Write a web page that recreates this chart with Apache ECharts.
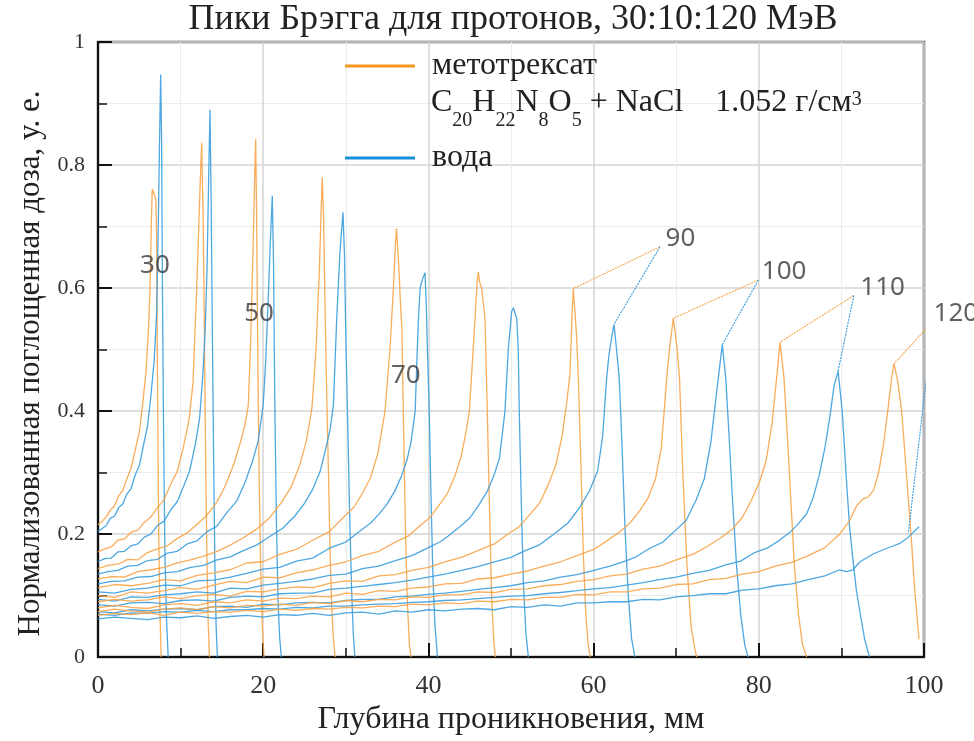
<!DOCTYPE html>
<html><head><meta charset="utf-8">
<script src="https://cdn.jsdelivr.net/npm/echarts@6/dist/echarts.min.js"></script>
<style>html,body{margin:0;padding:0;background:#fff}#c{width:974px;height:741px}</style>
</head><body><div id="c"></div>
<script>
// Energies, MeV
const energies = [30,40,50,60,70,80,90,100,110,120];

// Methotrexate (orange) curves: [depth mm, normalized dose]
const o30 = [[0,.215],[.5,.221],[1,.228],[1.5,.239],[2,.246],[2.5,.262],[3,.271],[3.5,.29],[4,.307],[4.5,.336],[5,.366],[5.4,.41],[5.8,.462],[6.1,.53],[6.3,.6],[6.45,.7],[6.57,.761],[6.8,.752],[7,.745],[7.1,.68],[7.2,.45],[7.35,.2],[7.5,.07],[7.65,0]];
const o40 = [[0,.171],[.8,.176],[1.6,.179],[2.4,.19],[3.2,.192],[4,.203],[4.8,.206],[5.6,.219],[6.4,.228],[7.2,.243],[8,.256],[8.8,.281],[9.6,.302],[10.3,.339],[11,.384],[11.5,.445],[11.95,.6],[12.2,.7],[12.4,.78],[12.55,.836],[12.75,.7],[12.9,.5],[13.05,.3],[13.2,.15],[13.35,.05],[13.5,0]];
const o50 = [[0,.144],[1.2,.149],[2.4,.151],[3.6,.159],[4.8,.158],[6,.17],[7.2,.176],[8.4,.181],[9.6,.193],[10.8,.202],[12,.216],[13.2,.231],[14.4,.252],[15.5,.281],[16.5,.316],[17.3,.352],[17.8,.378],[18.2,.41],[18.5,.52],[18.8,.68],[19,.8],[19.09,.842],[19.2,.72],[19.35,.48],[19.5,.3],[19.7,.14],[19.9,.05],[20.1,0]];
const o60 = [[0,.127],[1.6,.131],[3.2,.13],[4.8,.139],[6.4,.142],[8,.146],[9.6,.153],[11.2,.158],[12.8,.164],[14.4,.172],[16,.182],[17.6,.194],[19.2,.208],[20.8,.227],[22.2,.251],[23.4,.277],[24.4,.311],[25.2,.35],[25.9,.405],[26.4,.5],[26.8,.63],[27,.72],[27.15,.78],[27.3,.72],[27.5,.56],[27.7,.42],[27.9,.3],[28.1,.17],[28.3,.08],[28.5,.03],[28.7,0]];
const o70 = [[0,.113],[2,.118],[4,.116],[6,.12],[8,.126],[10,.124],[12,.133],[14,.137],[16,.142],[18,.153],[20,.155],[22,.167],[24,.175],[26,.19],[28,.204],[30,.231],[31,.244],[32,.266],[33,.292],[33.9,.332],[34.75,.4],[35.35,.5],[35.8,.61],[36,.67],[36.14,.697],[36.4,.64],[36.6,.58],[36.8,.53],[36.96,.4],[37.2,.22],[37.45,.09],[37.7,.02],[37.9,0]];
const o80 = [[0,.1],[2,.097],[4,.106],[6,.104],[8,.108],[10,.113],[12,.11],[14,.117],[16,.123],[18,.121],[20,.13],[22,.129],[24,.137],[26,.142],[28,.149],[30,.155],[32,.165],[34,.172],[36,.187],[37.6,.197],[39,.214],[40.2,.227],[41.3,.247],[42.3,.266],[43.2,.294],[44,.328],[44.6,.37],[44.96,.4],[45.24,.46],[45.64,.55],[45.9,.61],[46.04,.626],[46.2,.61],[46.45,.6],[46.85,.55],[47.13,.4],[47.4,.24],[47.65,.1],[47.9,.03],[48.1,0]];
const o90 = [[0,.09],[2,.094],[4,.091],[6,.093],[8,.098],[10,.095],[12,.1],[14,.102],[16,.099],[18,.107],[20,.106],[22,.111],[24,.114],[26,.113],[28,.12],[30,.124],[32,.123],[34,.132],[36,.134],[38,.141],[40,.146],[42,.155],[44,.162],[46,.173],[48,.184],[49.3,.197],[50.9,.211],[52.3,.232],[53.5,.251],[54.5,.28],[55.4,.311],[56.2,.36],[56.8,.42],[57.14,.46],[57.4,.56],[57.54,.599],[57.7,.57],[57.95,.52],[58.15,.454],[58.45,.32],[58.75,.17],[59.05,.07],[59.35,.02],[59.6,0]];
const o100 = [[0,.08],[2,.084],[4,.081],[6,.079],[8,.085],[10,.087],[12,.084],[14,.09],[16,.088],[18,.093],[20,.091],[22,.096],[24,.095],[26,.099],[28,.098],[30,.104],[32,.102],[34,.108],[36,.107],[38,.112],[40,.114],[42,.119],[44,.12],[46,.127],[48,.129],[50,.135],[52,.14],[54,.148],[56,.155],[58,.165],[60,.175],[61.6,.189],[63.1,.203],[64.4,.218],[65.6,.238],[66.6,.259],[67.5,.29],[68.2,.34],[68.85,.454],[69.25,.508],[69.65,.551],[70.06,.508],[70.4,.454],[70.8,.3],[71.3,.15],[71.8,.05],[72.3,.01],[72.5,0]];
const o110 = [[0,.074],[2,.078],[4,.075],[6,.073],[8,.078],[10,.08],[12,.077],[14,.082],[16,.08],[18,.084],[20,.083],[22,.086],[24,.084],[26,.089],[28,.087],[30,.092],[32,.09],[34,.094],[36,.093],[38,.098],[40,.097],[42,.101],[44,.101],[46,.106],[48,.105],[50,.11],[52,.111],[54,.116],[56,.118],[58,.123],[60,.126],[62,.132],[64,.135],[66,.143],[68,.148],[70,.158],[72,.167],[73.9,.181],[75.4,.194],[76.8,.208],[78,.227],[79.1,.255],[80.1,.285],[80.9,.32],[81.6,.38],[82.16,.454],[82.57,.512],[83.05,.454],[83.5,.35],[83.9,.25],[84.3,.15],[84.8,.07],[85.3,.02],[85.8,0]];
const o120 = [[0,.068],[2,.071],[4,.069],[6,.072],[8,.068],[10,.073],[12,.071],[14,.074],[16,.073],[18,.076],[20,.074],[22,.078],[24,.076],[26,.079],[28,.078],[30,.081],[32,.08],[34,.083],[36,.082],[38,.086],[40,.085],[42,.088],[44,.087],[46,.091],[48,.09],[50,.094],[52,.093],[54,.097],[56,.097],[58,.102],[60,.101],[62,.106],[64,.106],[66,.111],[68,.112],[70,.118],[72,.119],[74,.126],[76,.128],[78,.135],[80,.139],[82,.148],[84,.154],[86,.165],[88,.178],[89.8,.2],[91,.222],[91.8,.245],[92.6,.257],[93.2,.26],[93.9,.271],[94.5,.3],[95.1,.346],[95.7,.41],[96.1,.455],[96.37,.477],[96.8,.45],[97.3,.4],[97.9,.292],[98.5,.185],[98.9,.104],[99.4,.029]];

// Water (blue) curves
const w30 = [[0,.204],[.5,.209],[1,.214],[1.5,.226],[2,.229],[2.5,.243],[3,.249],[3.5,.265],[4,.274],[4.5,.296],[5,.311],[5.5,.344],[6,.376],[6.4,.424],[6.8,.482],[7.1,.56],[7.3,.7],[7.45,.84],[7.59,.947],[7.7,.84],[7.8,.6],[7.95,.35],[8.1,.17],[8.3,.06],[8.5,0]];
const w40 = [[0,.155],[.8,.16],[1.6,.161],[2.4,.171],[3.2,.172],[4,.181],[4.8,.184],[5.6,.195],[6.4,.2],[7.2,.214],[8,.221],[8.8,.239],[9.6,.253],[10.4,.279],[11.1,.303],[11.8,.347],[12.3,.388],[12.7,.46],[13,.54],[13.2,.63],[13.4,.78],[13.56,.89],[13.7,.74],[13.85,.52],[14,.32],[14.15,.15],[14.3,.05],[14.45,0]];
const w50 = [[0,.135],[1.2,.139],[2.4,.141],[3.6,.148],[4.8,.149],[6,.157],[7.2,.159],[8.4,.169],[9.6,.172],[10.8,.184],[12,.189],[13.2,.204],[14.4,.213],[15.6,.235],[16.8,.254],[17.8,.284],[18.7,.318],[19.4,.352],[20,.41],[20.3,.48],[20.6,.58],[20.85,.67],[21.1,.75],[21.25,.64],[21.4,.42],[21.6,.22],[21.8,.09],[22,.03],[22.2,0]];
const w60 = [[0,.119],[1.6,.123],[3.2,.124],[4.8,.13],[6.4,.131],[8,.137],[9.6,.139],[11.2,.146],[12.8,.149],[14.4,.158],[16,.163],[17.6,.173],[19.2,.182],[20.8,.196],[22.4,.21],[23.8,.229],[25,.25],[26,.273],[26.9,.302],[27.6,.34],[28.1,.37],[28.5,.41],[28.9,.55],[29.3,.66],[29.66,.723],[29.85,.65],[30,.52],[30.2,.4],[30.45,.24],[30.7,.11],[30.9,.04],[31.1,0]];
const w70 = [[0,.106],[2,.104],[4,.11],[6,.112],[8,.117],[10,.116],[12,.124],[14,.125],[16,.13],[18,.136],[20,.143],[22,.146],[24,.156],[26,.161],[28,.177],[30,.187],[32,.208],[33,.218],[34,.232],[35,.249],[35.9,.269],[36.7,.293],[37.4,.32],[37.9,.35],[38.4,.4],[38.6,.48],[38.8,.55],[39,.6],[39.3,.615],[39.59,.625],[39.75,.57],[39.9,.49],[40.1,.4],[40.3,.27],[40.55,.13],[40.8,.05],[41.1,0]];
const w80 = [[0,.094],[2,.091],[4,.098],[6,.097],[8,.101],[10,.103],[12,.106],[14,.104],[16,.112],[18,.111],[20,.117],[22,.12],[24,.123],[26,.127],[28,.133],[30,.135],[32,.144],[34,.148],[36,.157],[38,.165],[40,.178],[41.5,.188],[42.4,.197],[43.8,.212],[45,.226],[46.1,.247],[47.1,.269],[47.9,.294],[48.6,.323],[49.27,.4],[49.67,.5],[50.08,.562],[50.3,.568],[50.48,.57],[50.69,.55],[50.88,.5],[51,.4],[51.25,.25],[51.5,.12],[51.8,.04],[52.1,0]];
const w90 = [[0,.085],[2,.083],[4,.088],[6,.089],[8,.087],[10,.092],[12,.093],[14,.091],[16,.097],[18,.099],[20,.098],[22,.103],[24,.104],[26,.104],[28,.11],[30,.112],[32,.115],[34,.118],[36,.121],[38,.125],[40,.13],[42,.135],[44,.141],[46,.147],[48,.155],[50,.162],[51.5,.172],[53.5,.183],[55.3,.201],[56.9,.218],[58.3,.243],[59.5,.27],[60.5,.303],[61.1,.36],[61.58,.454],[61.85,.49],[62.07,.51],[62.47,.541],[62.8,.497],[63.1,.454],[63.45,.34],[63.8,.21],[64.2,.1],[64.6,.03],[65,0]];
const w100 = [[0,.074],[2,.072],[4,.077],[6,.075],[8,.078],[10,.079],[12,.077],[14,.082],[16,.083],[18,.081],[20,.086],[22,.085],[24,.088],[26,.089],[28,.088],[30,.092],[32,.094],[34,.094],[36,.098],[38,.099],[40,.102],[42,.104],[44,.107],[46,.11],[48,.113],[50,.116],[52,.121],[54,.124],[56,.13],[58,.134],[60,.141],[62,.148],[64,.157],[65,.162],[66.8,.177],[68.4,.187],[69.9,.206],[71.2,.222],[72.4,.255],[73.4,.29],[74.2,.35],[75.1,.454],[75.58,.508],[76,.454],[76.4,.36],[76.8,.26],[77.3,.15],[77.8,.07],[78.3,.02],[78.7,0]];
const w110 = [[0,.07],[2,.068],[4,.072],[6,.071],[8,.074],[10,.073],[12,.076],[14,.074],[16,.077],[18,.077],[20,.079],[22,.078],[24,.081],[26,.08],[28,.083],[30,.083],[32,.085],[34,.086],[36,.087],[38,.089],[40,.09],[42,.092],[44,.093],[46,.095],[48,.097],[50,.099],[52,.1],[54,.103],[56,.105],[58,.108],[60,.111],[62,.113],[64,.117],[66,.121],[68,.126],[70,.13],[72,.136],[74,.141],[76,.15],[77.8,.156],[79.5,.17],[81,.177],[82.4,.189],[83.7,.202],[84.8,.217],[85.8,.233],[86.6,.26],[87.3,.295],[88,.34],[88.6,.39],[89.1,.44],[89.6,.465],[90.1,.4],[90.6,.29],[91,.21],[91.4,.158],[91.8,.11],[92.2,.077],[92.8,.03],[93.4,0]];
const w120 = [[0,.062],[2,.065],[4,.063],[6,.061],[8,.065],[10,.064],[12,.067],[14,.063],[16,.066],[18,.068],[20,.065],[22,.069],[24,.068],[26,.071],[28,.068],[30,.072],[32,.073],[34,.07],[36,.075],[38,.073],[40,.077],[42,.075],[44,.078],[46,.079],[48,.077],[50,.082],[52,.081],[54,.085],[56,.083],[58,.088],[60,.088],[62,.09],[64,.09],[66,.094],[68,.093],[70,.098],[72,.1],[74,.103],[76,.103],[78,.109],[80,.111],[82,.116],[84,.119],[86,.126],[88,.132],[89.8,.142],[90.6,.139],[91.4,.142],[92.25,.155],[93.9,.168],[95.9,.179],[97.1,.185],[98.1,.195],[99.4,.212]];

const methCurves = [o30,o40,o50,o60,o70,o80,o90,o100,o110,o120];
const waterCurves = [w30,w40,w50,w60,w70,w80,w90,w100,w110,w120];

// Energy annotations
const inlineLabels = ['30','50','70'];
const inlineX = [6.9,19.5,37.26];
const inlineY = [.636,.559,.457];
const leaderLabels = ['90','100','110','120'];
const leaderConv = [[68.04,.667],[79.94,.613],[91.5,.588],[101.1,.546]];
const leaderOrange = [[57.54,.599],[69.65,.551],[82.57,.512],[96.37,.477]];
const leaderBlue = [[62.47,.541],[75.58,.508],[89.6,.465],[98.1,.201]];
const leaderLabelGap = [5,3,6,0];

const ORANGE = '#F8A448', BLUE = '#3A9DDE';
const serif = 'Liberation Serif';

const series = [];
for (let i = 0; i < energies.length; i++) {
  series.push({type:'line', name:'метотрексат', data:methCurves[i], showSymbol:false, symbol:'none',
    lineStyle:{color:ORANGE, width:1.3, opacity:0.9}, itemStyle:{color:ORANGE}, z:3});
  series.push({type:'line', name:'вода', data:waterCurves[i], showSymbol:false, symbol:'none',
    lineStyle:{color:BLUE, width:1.3, opacity:0.9}, itemStyle:{color:BLUE}, z:3});
}
for (let j = 0; j < leaderLabels.length; j++) {
  series.push({type:'line', name:'l_o'+j, data:[leaderConv[j], leaderOrange[j]], clip:false, showSymbol:false, symbol:'none',
    lineStyle:{color:ORANGE, width:1.1, type:[2,1]}, z:4});
  series.push({type:'line', name:'l_b'+j, data:[leaderConv[j], leaderBlue[j]], clip:false, showSymbol:false, symbol:'none',
    lineStyle:{color:BLUE, width:1.1, type:[2,1]}, z:4});
}
series.push({type:'scatter', name:'lbl1', clip:false, symbolSize:1, itemStyle:{color:'rgba(0,0,0,0)'},
  data: inlineLabels.map((t,i)=>({name:t, value:[inlineX[i], inlineY[i]]})),
  label:{show:true, position:'inside', formatter:p=>p.name, fontFamily:'Noto Sans', fontSize:26, color:'#3a3a3a'}, z:6});
series.push({type:'scatter', name:'lbl2', clip:false, symbolSize:1, itemStyle:{color:'rgba(0,0,0,0)'},
  data: leaderLabels.map((t,i)=>({name:t, value:leaderConv[i], label:{distance:leaderLabelGap[i]}})),
  label:{show:true, position:'right', distance:5, offset:[0,-8], formatter:p=>p.name, fontFamily:'Noto Sans', fontSize:26, color:'#3a3a3a'}, z:6});

const axisCommon = {
  axisLine:{show:true, onZero:false, lineStyle:{color:'#111', width:2}},
  axisTick:{show:true, inside:true, length:14, lineStyle:{color:'#111', width:2}},
  minorTick:{show:true, splitNumber:2, length:9, lineStyle:{color:'#111', width:1.5}},
  splitLine:{show:true, lineStyle:{color:'#d4d4d4', width:1.5}},
  minorSplitLine:{show:true, lineStyle:{color:'#ececec', width:1}},
  nameLocation:'middle'
};

const option = {
  animation:false,
  backgroundColor:'#fff',
  title:{text:'Пики Брэгга для протонов, 30:10:120 МэВ', left:511, top:0, padding:2, textAlign:'center',
    textStyle:{fontFamily:serif, fontSize:36, fontWeight:'normal', color:'#222'}},
  grid:{left:98, right:50, top:42, bottom:80, show:true, borderColor:'#555', borderWidth:2.5, backgroundColor:'transparent'},
  legend:{show:true, orient:'vertical', left:345, top:48, padding:0, itemWidth:70, itemHeight:3, itemGap:56, icon:'rect',
    textStyle:{fontFamily:serif, fontSize:32, color:'#222', lineHeight:36, padding:[0,0,0,12]},
    data:[{name:'метотрексат', itemStyle:{color:'#F7961E'}}, {name:'вода', itemStyle:{color:'#1A8FDB'}}]},
  graphic:[{type:'text', left:431, top:87, z:10,
    style:{text:'{n|C}{s|20}{n|H}{s|22}{n|N}{s|8}{n|O}{s|5}{n| + NaCl    1.052 г/см}{p|3}', fill:'#222',
      rich:{n:{fontFamily:serif, fontSize:32, lineHeight:36, verticalAlign:'top', fill:'#222'},
            s:{fontFamily:serif, fontSize:20, lineHeight:20, padding:[24,0,0,0], verticalAlign:'top', fill:'#222'},
            p:{fontFamily:serif, fontSize:20, lineHeight:20, padding:[3,0,0,0], verticalAlign:'top', fill:'#222'}}}}],
  xAxis:Object.assign({type:'value', min:0, max:100, interval:20, name:'Глубина проникновения, мм', nameGap:44,
    nameTextStyle:{fontFamily:serif, fontSize:32, color:'#222'},
    axisLabel:{fontFamily:serif, fontSize:26, color:'#333', margin:16}}, axisCommon),
  yAxis:Object.assign({type:'value', min:0, max:1, interval:0.2, name:'Нормализованная поглощенная доза, у. е.', nameGap:49,
    nameTextStyle:{fontFamily:serif, fontSize:31, color:'#222', padding:[0,28,0,0]},
    axisLabel:{fontFamily:serif, fontSize:22, color:'#333', margin:13}}, axisCommon),
  series:series
};
const chart = echarts.init(document.getElementById('c'), null, {renderer:'canvas'});
chart.setOption(option);
</script></body></html>
